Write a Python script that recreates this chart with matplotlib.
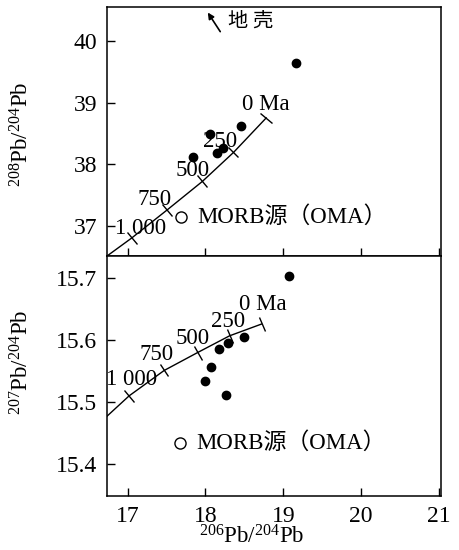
import numpy as np
import matplotlib
matplotlib.use("Agg")
import matplotlib.pyplot as plt
from matplotlib.markers import MarkerStyle
from matplotlib.transforms import Affine2D

plt.rcParams['font.family'] = ['Liberation Serif', 'Noto Sans CJK SC']
plt.rcParams['mathtext.fontset'] = 'custom'
plt.rcParams['mathtext.rm'] = 'Liberation Serif'
plt.rcParams['mathtext.default'] = 'regular'

# samples
x206 = [19.16, 18.46, 18.06, 17.84, 18.15, 18.22]
y208 = [39.64, 38.62, 38.49, 38.12, 38.18, 38.26]
x206b = [19.07, 18.49, 18.29, 18.18, 18.07, 18.00, 18.26]
y207 = [15.703, 15.605, 15.595, 15.586, 15.556, 15.534, 15.511]

# growth curves (start point, then 1000, 750, 500, 250, 0 Ma)
ages = ['1 000', '750', '500', '250', '0 Ma']
curve_x_top = [16.735, 17.05, 17.50, 17.96, 18.36, 18.78]
curve_y_top = [36.51, 36.80, 37.25, 37.72, 38.19, 38.75]
curve_x_bot = [16.735, 17.02, 17.47, 17.90, 18.31, 18.72]
curve_y_bot = [15.477, 15.510, 15.551, 15.580, 15.607, 15.626]

# age label positions
lab_x_top = [17.16, 17.35, 17.84, 18.19, 18.77]
lab_y_top = [36.95, 37.42, 37.89, 38.36, 38.96]
lab_x_bot = [17.05, 17.37, 17.83, 18.29, 18.74]
lab_y_bot = [15.536, 15.576, 15.603, 15.630, 15.657]

morb_top = (17.69, 37.15)
morb_bot = (17.67, 15.434)

fig = plt.figure(figsize=(4.6, 5.5), dpi=100)
ax1 = fig.add_axes([0.2326, 0.5345, 0.7261, 0.4528])
ax2 = fig.add_axes([0.2326, 0.0982, 0.7261, 0.4363])

FS = 16.5

def curve(ax, cx, cy, lx, ly):
    ax.plot(cx, cy, color='black', lw=1.0)
    ax.figure.canvas.draw()
    pts = ax.transData.transform(np.column_stack([cx, cy]))
    for i in range(1, len(cx)):
        j0 = i - 1
        j1 = min(i + 1, len(cx) - 1)
        d = pts[j1] - pts[j0]
        ang = np.degrees(np.arctan2(d[1], d[0]))
        m = MarkerStyle('|', transform=Affine2D().rotate_deg(ang))
        ax.plot(cx[i], cy[i], marker=m, ms=11, mew=1.0, color='black')
    for t, x, y in zip(ages, lx, ly):
        ax.text(x, y, t, fontsize=FS, ha='center', va='center')

for ax in (ax1, ax2):
    ax.set_xlim(16.735, 21.026)
    ax.set_xticks([17, 18, 19, 20, 21])
    ax.tick_params(direction='in', length=6, width=1.0, labelsize=17, pad=7,
                   top=False, right=False)
    for s in ax.spines.values():
        s.set_linewidth(1.1)

ax1.set_ylim(36.51, 40.55)
ax1.set_yticks([37, 38, 39, 40])
ax1.tick_params(labelbottom=False)
ax2.set_ylim(15.348, 15.736)
ax2.set_yticks([15.4, 15.5, 15.6, 15.7])
ax2.set_yticklabels(['15.4', '15.5', '15.6', '15.7'])

curve(ax1, curve_x_top, curve_y_top, lab_x_top, lab_y_top)
curve(ax2, curve_x_bot, curve_y_bot, lab_x_bot, lab_y_bot)

ax1.plot(x206, y208, 'o', color='black', ms=6)
ax2.plot(x206b, y207, 'o', color='black', ms=6)

for ax, (mx, my) in ((ax1, morb_top), (ax2, morb_bot)):
    ax.plot(mx, my, 'o', mfc='white', mec='black', ms=8, mew=1.0)
    ax.text(mx + 0.21, my, 'MORB源（OMA）', fontsize=FS, ha='left', va='center')

ax1.annotate('', xy=(18.03, 40.46), xytext=(18.19, 40.15),
             arrowprops=dict(arrowstyle='-|>', color='black', lw=1.2,
                             mutation_scale=9, shrinkA=0, shrinkB=0))
ax1.text(18.29, 40.31, '地 壳', fontsize=FS - 2, ha='left', va='center')

fig.text(22 / 460, 1 - 134 / 550, '$^{208}$Pb/$^{204}$Pb', rotation=90,
         fontsize=FS, ha='center', va='center')
fig.text(22 / 460, 1 - 362 / 550, '$^{207}$Pb/$^{204}$Pb', rotation=90,
         fontsize=FS, ha='center', va='center')
fig.text(252 / 460, 1 - 548 / 550, '$^{206}$Pb/$^{204}$Pb',
         fontsize=FS, ha='center', va='bottom')

fig.savefig('out.png', dpi=100)
